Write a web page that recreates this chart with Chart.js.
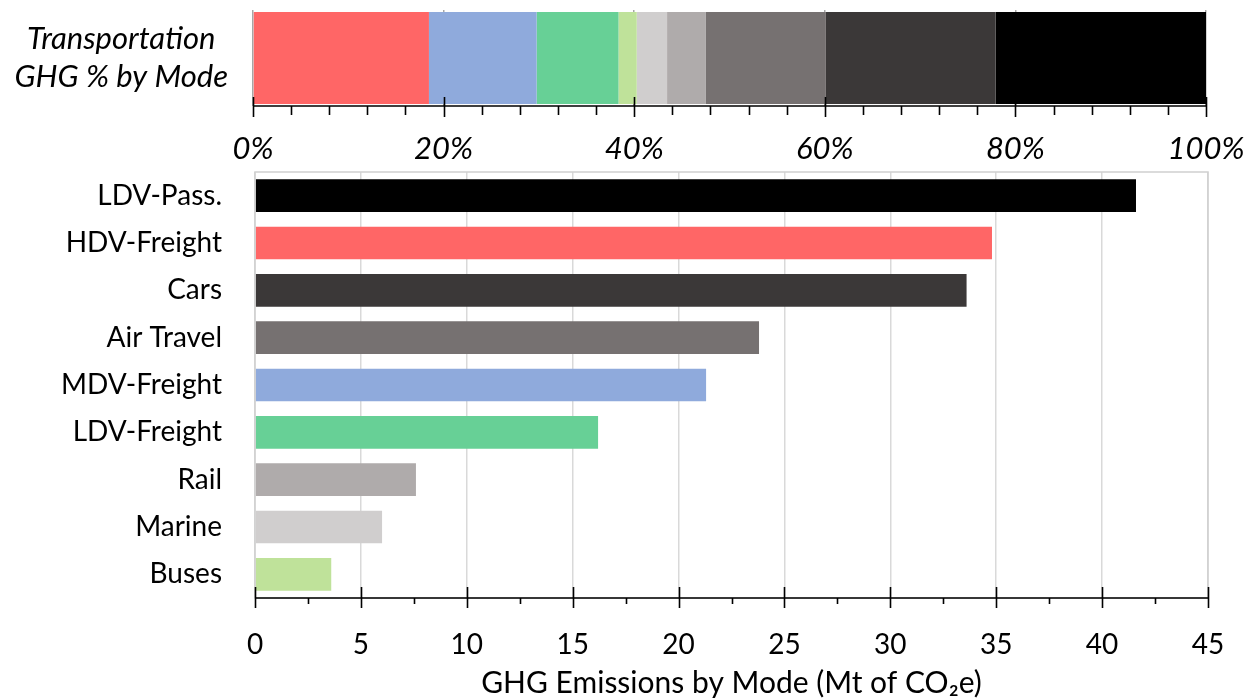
<!DOCTYPE html>
<html>
<head>
<meta charset="utf-8">
<script src="https://cdn.jsdelivr.net/npm/chart.js@4.4.1/dist/chart.umd.min.js"></script>
<style>
  body { margin: 0; background: #fff; }
  #wrap { position: relative; width: 1255px; height: 700px; }
  .box { position: absolute; left: 0; }
  #share-box { top: 0; }
  #mode-box { top: 165px; }
</style>
</head>
<body>
<div id="wrap">
  <div class="box" id="share-box"><canvas id="share-chart" width="1255" height="170"></canvas></div>
  <div class="box" id="mode-box"><canvas id="mode-chart" width="1255" height="535"></canvas></div>
</div>
<script>
// Emissions by mode (Mt CO2e), top to bottom as in the bar chart
const modes = ['LDV-Pass.', 'HDV-Freight', 'Cars', 'Air Travel', 'MDV-Freight', 'LDV-Freight', 'Rail', 'Marine', 'Buses'];
const emissions = [41.6, 34.8, 33.6, 23.8, 21.3, 16.2, 7.6, 6.0, 3.6];
const modeColors = ['#000000', '#ff6666', '#3b3838', '#767171', '#8faadc', '#67d096', '#afabab', '#d0cece', '#bfe29a'];

// stacking order of the share bar, left to right
const shareOrder = ['HDV-Freight', 'MDV-Freight', 'LDV-Freight', 'Buses', 'Marine', 'Rail', 'Air Travel', 'Cars', 'LDV-Pass.'];
const shareLabel = ['Transportation', 'GHG % by Mode'];

const FONT = 'Lato, "Noto Sans", sans-serif';

// axis line with major ticks crossing it and minor ticks below
const axisTicks = {
  id: 'axisTicks',
  afterDraw(chart, args, opts) {
    const scale = chart.scales.x;
    const area = chart.chartArea;
    const ctx = chart.ctx;
    const y = area.bottom;
    ctx.save();
    if (opts.frame) {
      ctx.strokeStyle = opts.frame;
      ctx.lineWidth = 1.5;
      ctx.strokeRect(area.left, area.top, area.right - area.left, area.bottom - area.top);
    }
    ctx.strokeStyle = '#000';
    ctx.lineWidth = 1.6;
    ctx.beginPath();
    ctx.moveTo(area.left, y);
    ctx.lineTo(area.right, y);
    const step = opts.step / opts.minor;
    for (let i = 0; scale.min + i * step <= scale.max + 1e-9; i++) {
      const x = Math.round(scale.getPixelForValue(scale.min + i * step)) + 0.5;
      const major = i % opts.minor === 0;
      ctx.moveTo(x, major ? y - opts.up : y);
      ctx.lineTo(x, y + (major ? opts.down : opts.minorDown));
    }
    ctx.stroke();
    ctx.restore();
  }
};

// fixed axis box sizes, and no extra padding for overhanging labels
function fixBox(size) {
  return s => {
    if (s.isHorizontal()) s.height = size; else s.width = size;
    s.paddingTop = s.paddingBottom = s.paddingLeft = s.paddingRight = 0;
  };
}

const total = emissions.reduce((a, b) => a + b, 0);
const shareSets = shareOrder.map(name => {
  const i = modes.indexOf(name);
  return {
    label: name,
    data: [emissions[i] / total * 100],
    backgroundColor: modeColors[i],
    barPercentage: 0.96,
    categoryPercentage: 1
  };
});

new Chart(document.getElementById('share-chart'), {
  type: 'bar',
  data: { labels: [shareLabel], datasets: shareSets },
  plugins: [axisTicks],
  options: {
    indexAxis: 'y',
    responsive: false,
    animation: false,
    layout: { padding: { top: 10, right: 49, left: 0, bottom: 0 } },
    plugins: {
      legend: { display: false },
      tooltip: { enabled: false },
      axisTicks: { step: 20, minor: 5, up: 9, down: 11, minorDown: 9 }
    },
    scales: {
      x: {
        stacked: true,
        min: 0, max: 100,
        z: 1,
        grid: { color: 'rgba(60,60,60,0.45)', lineWidth: 1.5, drawTicks: false },
        border: { display: false },
        afterFit: fixBox(64),
        ticks: {
          stepSize: 20,
          padding: 24,
          color: '#000',
          font: { family: FONT, size: 31, style: 'italic' },
          callback: v => v + '%'
        }
      },
      y: {
        stacked: true,
        grid: { display: false, drawTicks: false },
        border: { display: false },
        afterFit: fixBox(253),
        ticks: {
          crossAlign: 'center',
          padding: 25,
          color: '#000',
          font: { family: FONT, size: 31, style: 'italic', lineHeight: 1.23 }
        }
      }
    }
  }
});

new Chart(document.getElementById('mode-chart'), {
  type: 'bar',
  data: {
    labels: modes,
    datasets: [{
      data: emissions,
      backgroundColor: modeColors,
      barPercentage: 0.69,
      categoryPercentage: 1
    }]
  },
  plugins: [axisTicks],
  options: {
    indexAxis: 'y',
    responsive: false,
    animation: false,
    layout: { padding: { top: 7, right: 47, left: 0, bottom: 0 } },
    plugins: {
      legend: { display: false },
      tooltip: { enabled: false },
      axisTicks: { step: 5, minor: 2, up: 11, down: 10, minorDown: 6, frame: '#d0d0d0' }
    },
    scales: {
      x: {
        min: 0, max: 45,
        z: 1,
        grid: { color: 'rgba(120,120,120,0.28)', lineWidth: 1.5, drawTicks: false },
        border: { display: false },
        afterFit: fixBox(102),
        ticks: {
          stepSize: 5,
          padding: 30,
          color: '#000',
          font: { family: FONT, size: 28 }
        },
        title: {
          display: true,
          text: 'GHG Emissions by Mode (Mt of CO\u2082e)',
          color: '#000',
          padding: { top: 0, bottom: 0 },
          font: { family: FONT, size: 30, lineHeight: 1.1 }
        }
      },
      y: {
        grid: { display: false, drawTicks: false },
        border: { display: false },
        afterFit: fixBox(255),
        ticks: {
          padding: 33,
          color: '#000',
          font: { family: FONT, size: 28 }
        }
      }
    }
  }
});
</script>
</body>
</html>
